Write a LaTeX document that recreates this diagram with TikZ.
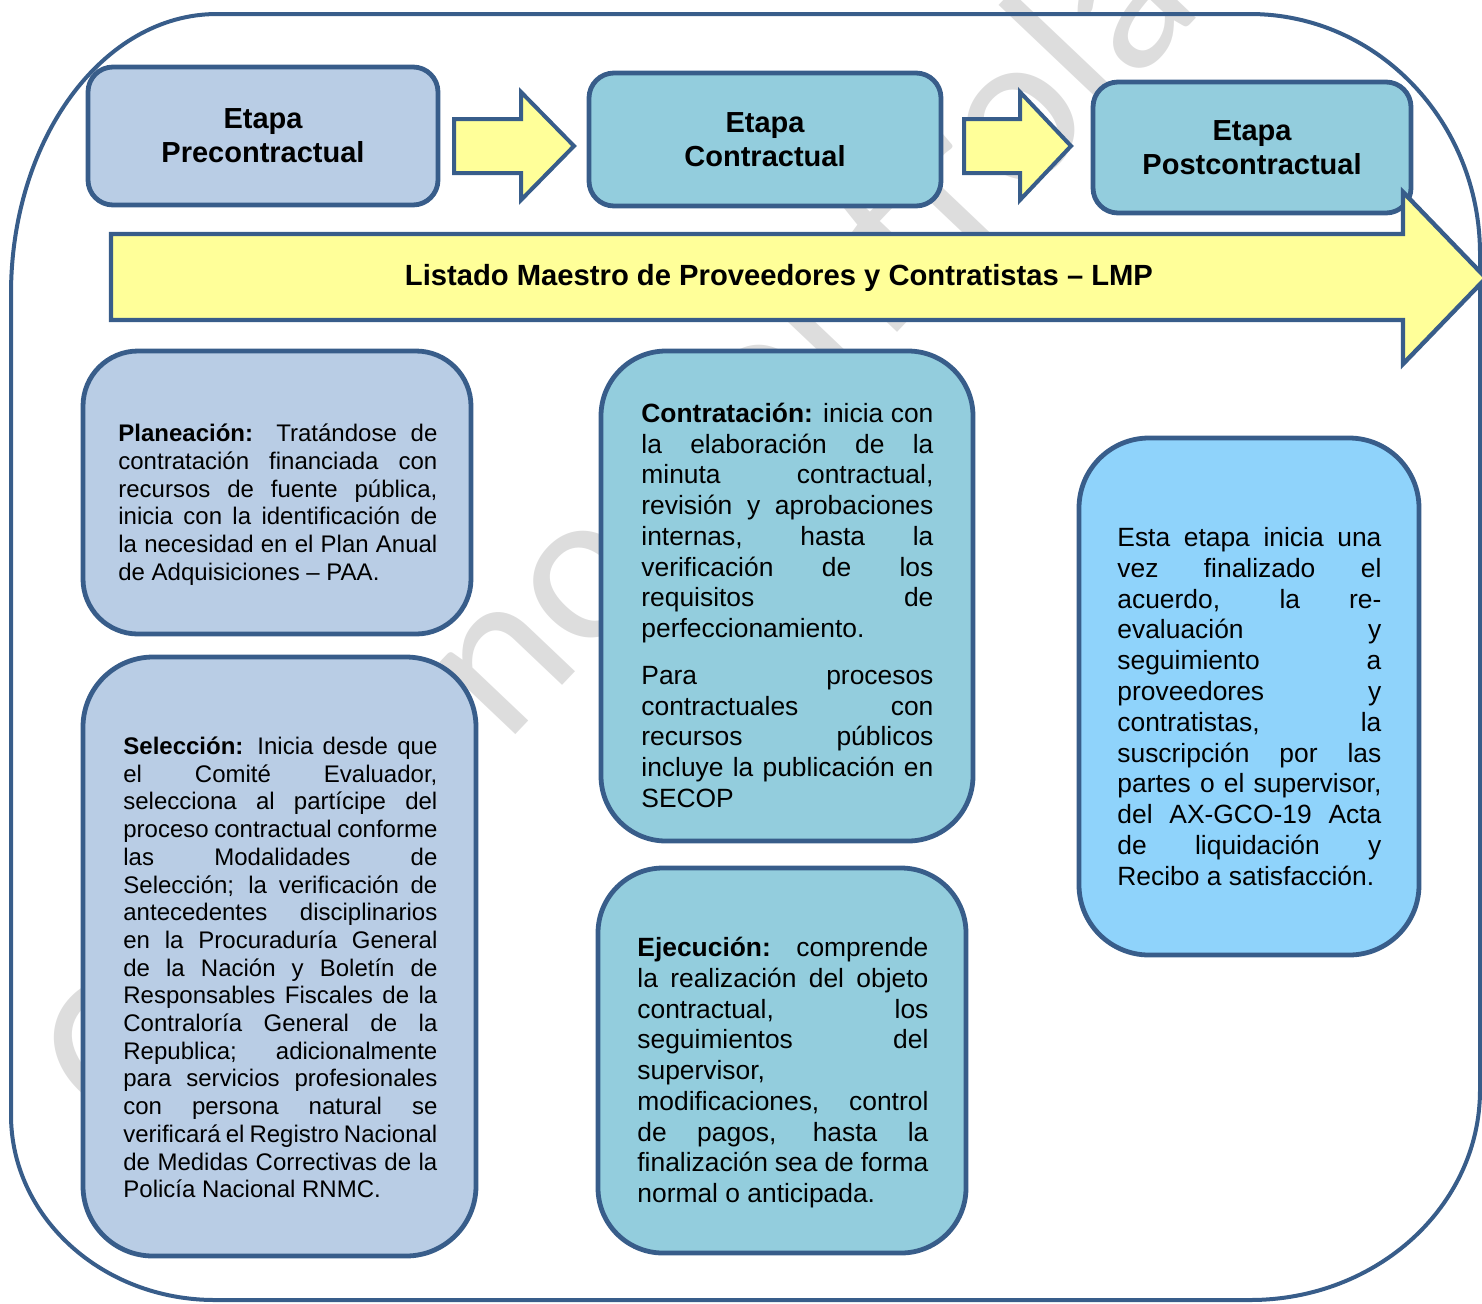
\documentclass[tikz,border=0pt]{standalone}
\usepackage{fontspec}
\setmainfont{Liberation Sans}
\newfontfamily\wmfont{Carlito}
\definecolor{framec}{HTML}{385D8A}
\definecolor{prefill}{HTML}{B9CDE5}
\definecolor{confill}{HTML}{93CDDD}
\definecolor{postfill}{HTML}{8FD3FB}
\definecolor{yellowc}{HTML}{FFFF99}
\definecolor{wmgray}{HTML}{DDDDDD}
\newcommand\JL[1]{\hbox to\hsize{#1}}
\newcommand\FL[1]{\hbox to\hsize{#1\hfil}}
\tikzset{
  stagebox/.style={draw=framec, line width=2.4pt, rounded corners=12.5pt, fill=#1,
    inner sep=0pt, align=center, font=\bfseries\fontsize{14.5pt}{17pt}\selectfont},
  infobox/.style={draw=framec, line width=2.4pt, fill=#1, inner sep=0pt},
  yarrow/.style={draw=framec, line width=2pt, fill=yellowc, line join=miter},
  bodytext/.style={anchor=base west, inner sep=0pt, font=\fontsize{#1}{#1}\selectfont},
}
\begin{document}
\begin{tikzpicture}[x=0.5pt, y=-0.5pt]
\useasboundingbox (0,0) rectangle (1482,1303);
\clip (0,0) rectangle (1482,1303);
% watermark
\node[font=\wmfont\fontsize{109.5pt}{109.5pt}\selectfont, text=wmgray, rotate=46.5,
  anchor=base west, inner sep=0pt] (wm) at (126,1146) {Copia no controlada};
% outer frame
\draw[framec, line width=2pt]
  (217,14) -- (1250,14)
  .. controls (1377,14) and (1480,121.5) .. (1480,254)
  -- (1480,1090)
  .. controls (1480,1206) and (1377,1300) .. (1250,1300)
  -- (215,1300)
  .. controls (102,1300) and (11,1217) .. (11,1115)
  -- (11,294)
  .. controls (11,139) and (103,14) .. (217,14) -- cycle;
% stage boxes
\node[stagebox=prefill, minimum width=175pt, minimum height=69pt] (pre) at (263,136) {Etapa\\Precontractual};
\node[stagebox=confill, minimum width=176pt, minimum height=66.5pt] (con) at (765,139.5) {Etapa\\Contractual};
\node[stagebox=confill, minimum width=159pt, minimum height=65.5pt] (post) at (1252,147.5) {Etapa\\Postcontractual};
% small arrows
\draw[yarrow] (454,119) -- (521,119) -- (521,92) -- (574,146) -- (521,200) -- (521,173) -- (454,173) -- cycle;
\draw[yarrow] (964,119) -- (1020,119) -- (1020,92) -- (1071,146) -- (1020,200) -- (1020,173) -- (964,173) -- cycle;
% big arrow
\draw[yarrow, line width=2.2pt] (111,234) -- (1403,234) -- (1403,192) -- (1486,278) -- (1403,364) -- (1403,320) -- (111,320) -- cycle;
\node[inner sep=0pt, font=\bfseries\fontsize{14.6pt}{17pt}\selectfont] (lmp) at (779,278) {Listado Maestro de Proveedores y Contratistas – LMP};
% info boxes
\node[infobox=prefill, rounded corners=27.5pt, minimum width=194pt, minimum height=141.5pt] (plan) at (277,492.5) {};
\node[infobox=prefill, rounded corners=35pt, minimum width=196.5pt, minimum height=299.5pt] (sel) at (279.5,956.5) {};
\node[infobox=confill, rounded corners=32.5pt, minimum width=186pt, minimum height=245pt] (contr) at (787,596) {};
\node[infobox=confill, rounded corners=32.5pt, minimum width=184pt, minimum height=192.5pt] (ejec) at (782,1060.5) {};
\node[infobox=postfill, rounded corners=35pt, minimum width=170pt, minimum height=258.5pt] (postt) at (1249,696.5) {};
% texts
\node[bodytext=12pt, font=\fontsize{12pt}{13.9pt}\selectfont] (tplan) at (118,441.5) {\vtop{\hsize=159.5pt
\JL{{\bfseries Planeación:} Tratándose de}
\JL{contratación financiada con}
\JL{recursos de fuente pública,}
\JL{inicia con la identificación de}
\JL{la necesidad en el Plan Anual}
\FL{de Adquisiciones – PAA.}}};
\node[bodytext=12pt, font=\fontsize{12pt}{13.85pt}\selectfont] (tsel) at (123,754.5) {\vtop{\hsize=157pt
\JL{{\bfseries Selección:} Inicia desde que}
\JL{el Comité Evaluador,}
\JL{selecciona al partícipe del}
\JL{proceso contractual conforme}
\JL{las Modalidades de}
\JL{Selección; la verificación de}
\JL{antecedentes disciplinarios}
\JL{en la Procuraduría General}
\JL{de la Nación y Boletín de}
\JL{Responsables Fiscales de la}
\JL{Contraloría General de la}
\JL{Republica; adicionalmente}
\JL{para servicios profesionales}
\JL{con persona natural se}
\JL{verificará el Registro Nacional}
\JL{de Medidas Correctivas de la}
\FL{Policía Nacional RNMC.}}};
\node[bodytext=13.2pt, font=\fontsize{13.2pt}{15.35pt}\selectfont] (tcontr) at (641,422.5) {\vtop{\hsize=146pt
\JL{{\bfseries Contratación:} inicia con}
\JL{la elaboración de la}
\JL{minuta contractual,}
\JL{revisión y aprobaciones}
\JL{internas, hasta la}
\JL{verificación de los}
\JL{requisitos de}
\FL{perfeccionamiento.}
\vskip 8.15pt
\JL{Para procesos}
\JL{contractuales con}
\JL{recursos públicos}
\JL{incluye la publicación en}
\FL{SECOP}}};
\node[bodytext=13.2pt, font=\fontsize{13.2pt}{15.375pt}\selectfont] (tejec) at (637,956.5) {\vtop{\hsize=145.5pt
\JL{{\bfseries Ejecución:} comprende}
\JL{la realización del objeto}
\JL{contractual, los}
\JL{seguimientos del}
\FL{supervisor,}
\JL{modificaciones, control}
\JL{de pagos, hasta la}
\JL{finalización sea de forma}
\FL{normal o anticipada.}}};
\node[bodytext=13.2pt, font=\fontsize{13.2pt}{15.4pt}\selectfont] (tpost) at (1117,546.5) {\vtop{\hsize=132pt
\JL{Esta etapa inicia una}
\JL{vez finalizado el}
\JL{acuerdo, la re-}
\JL{evaluación y}
\JL{seguimiento a}
\JL{proveedores y}
\JL{contratistas, la}
\JL{suscripción por las}
\JL{partes o el supervisor,}
\JL{del AX-GCO-19 Acta}
\JL{de liquidación y}
\FL{Recibo a satisfacción.}}};
\end{tikzpicture}
\end{document}
